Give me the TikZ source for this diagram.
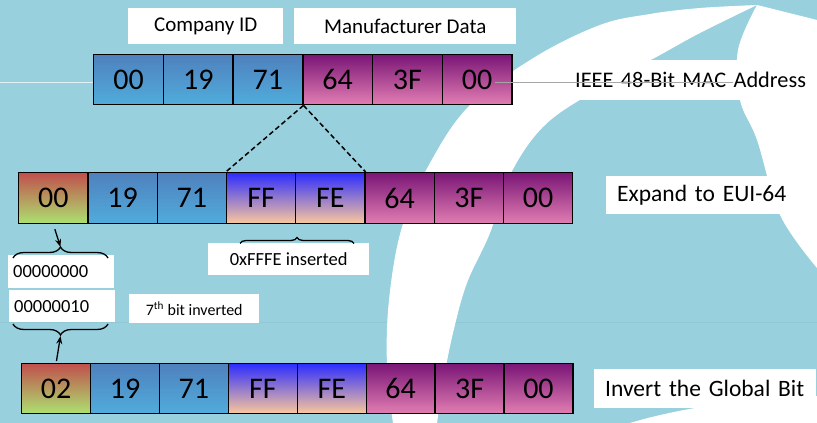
\documentclass[tikz,border=0pt]{standalone}
\usepackage{fontspec}
\setmainfont{Carlito}
\usetikzlibrary{decorations.pathreplacing,arrows.meta}
\definecolor{bgblue}{RGB}{152,208,222}
\definecolor{bluetop}{RGB}{79,129,189}
\definecolor{bluebot}{RGB}{80,172,220}
\definecolor{purtop}{RGB}{122,22,118}
\definecolor{purbot}{RGB}{226,126,178}
\definecolor{fftop}{RGB}{45,45,255}
\definecolor{ffbot}{RGB}{252,200,155}
\definecolor{grtop}{RGB}{192,80,77}
\definecolor{grbot}{RGB}{172,226,112}
\tikzset{
  cell/.style={draw=black, line width=1.4pt, minimum height=50pt, inner sep=0pt,
    anchor=north west, font=\fontsize{30}{36}\selectfont},
  bluecell/.style={cell, top color=bluetop, bottom color=bluebot},
  purcell/.style={cell, top color=purtop, bottom color=purbot},
  ffcell/.style={cell, top color=fftop, bottom color=ffbot},
  grcell/.style={cell, top color=grtop, bottom color=grbot},
  lbl/.style={fill=white, anchor=north west, inner sep=0pt},
  lbll/.style={fill=white, anchor=north west, inner ysep=0pt, align=left},
  bigtxt/.style={font=\fontsize{23.5}{28}\selectfont},
  ieeetxt/.style={font=\fontsize{22.3}{27}\selectfont},
  midtxt/.style={font=\fontsize{21}{25}\selectfont},
  smltxt/.style={font=\fontsize{18.5}{22}\selectfont},
  tinytxt/.style={font=\fontsize{16}{19}\selectfont},
  dashline/.style={draw=black, line width=1.5pt, dash pattern=on 5pt off 3pt},
  bracestyle/.style={draw=black, line width=1.3pt, decorate, decoration={brace, amplitude=#1}},
  arr/.style={draw=black, line width=1.3pt, -{Stealth[length=8pt,width=6pt]}},
}
\begin{document}
\begin{tikzpicture}[x=1pt,y=-1pt]
\useasboundingbox (0,0) rectangle (817,423);
% background
\fill[bgblue] (0,0) rectangle (817,423);
\draw[white!70!bgblue, line width=0.6pt] (0,82) -- (93,82);
\draw[bgblue!90!black, line width=0.5pt, opacity=0.35] (0,322) -- (817,322);
\fill[white] plot[smooth, tension=0.6] coordinates {(757,5) (700,8) (650,14) (600,25) (535,57) (470,105) (430,163) (402,227) (389,300) (387,367) (393,423)}
  -- plot[smooth, tension=0.6] coordinates {(437,423) (443,383) (453,333) (467,283) (490,233) (510,175) (545,125) (600,88) (660,55) (700,33) (757,5)} -- cycle;
\fill[white] plot[smooth, tension=0.6] coordinates {(757,5) (738,50) (740,100) (757,140) (780,215) (817,268)} -- (817,20) -- cycle;
\fill[white] (630,423) .. controls (690,405) and (760,398) .. (817,396) -- (817,423) -- cycle;

% header labels
\node[lbl, midtxt, minimum width=155pt, minimum height=36pt] (cid) at (128,8) {Company ID};
\node[lbl, midtxt, minimum width=222pt, minimum height=36pt] (mfd) at (294,8) {Manufacturer Data};

% top row
\foreach \t/\s [count=\i] in {00/bluecell,19/bluecell,71/bluecell,64/purcell,3F/purcell,00/purcell}
  \node[\s, minimum width=69.7pt] (t\i) at ({93+69.7*(\i-1)},54) {\t};

% middle row
\foreach \t/\s [count=\i] in {00/grcell,19/bluecell,71/bluecell,FF/ffcell,FE/ffcell,64/purcell,3F/purcell,00/purcell}
  \node[\s, minimum width=69.25pt, minimum height=51pt] (m\i) at ({18+69.25*(\i-1)},172) {\t};

% bottom row
\foreach \t/\s [count=\i] in {02/grcell,19/bluecell,71/bluecell,FF/ffcell,FE/ffcell,64/purcell,3F/purcell,00/purcell}
  \node[\s, minimum width=68.9pt] (b\i) at ({21+68.9*(\i-1)},363) {\t};

% right labels
\node[lbll, ieeetxt, minimum height=40pt, inner xsep=8pt, text width=234pt] (ieee) at (567,60) {\mbox{IEEE 48-Bit MAC Address}};
\node[lbll, bigtxt, minimum height=38pt, inner xsep=11pt, text width=189pt] (exp) at (606,176) {\mbox{Expand to EUI-64}};
\node[lbll, bigtxt, minimum height=39pt, inner xsep=11pt, text width=200pt] (inv) at (594,369) {\mbox{Invert the Global Bit}};

% line from MAC address to label
\coordinate (ls) at (495,82);
\coordinate (le) at (733,82);
\draw[gray!70, line width=0.9pt] (ls) -- (le);

% dashed expansion lines
\draw[dashline] (t3.south east) -- (m4.north west);
\draw[dashline] (t3.south east) -- (m5.north east);

% inserted label and brace
\node[lbl, smltxt, minimum width=161pt, minimum height=32pt] (ins) at (208,243) {0xFFFE inserted};
\coordinate (brA) at (240,243.5);
\coordinate (brB) at (354,243.5);
\draw[bracestyle=6pt] (brA) -- (brB);

% binary boxes
\node[lbll, smltxt, minimum height=33pt, inner xsep=5pt, text width=96pt] (binA) at (8,255) {00000000};
\node[lbll, smltxt, minimum height=32pt, inner xsep=5pt, text width=96pt] (binB) at (9,290) {00000010};
\node[lbl, tinytxt, minimum width=130pt, minimum height=29pt] (sev) at (129,294) {7\textsuperscript{th} bit inverted};

% braces by the binary boxes
\coordinate (bc1) at (13,258);
\coordinate (bc2) at (108,258);
\coordinate (tp1) at (60.5,247);
\draw[bracestyle=11pt] (bc1) -- (bc2);
\coordinate (bd1) at (108,324);
\coordinate (bd2) at (13,324);
\coordinate (tp2) at (60.5,336);
\draw[bracestyle=11pt] (bd1) -- (bd2);

% arrows
\draw[arr, shorten <=5pt] (m1.south) -- (tp1);
\draw[arr, shorten <=2pt] (b1.north) -- (tp2);
\end{tikzpicture}
\end{document}
